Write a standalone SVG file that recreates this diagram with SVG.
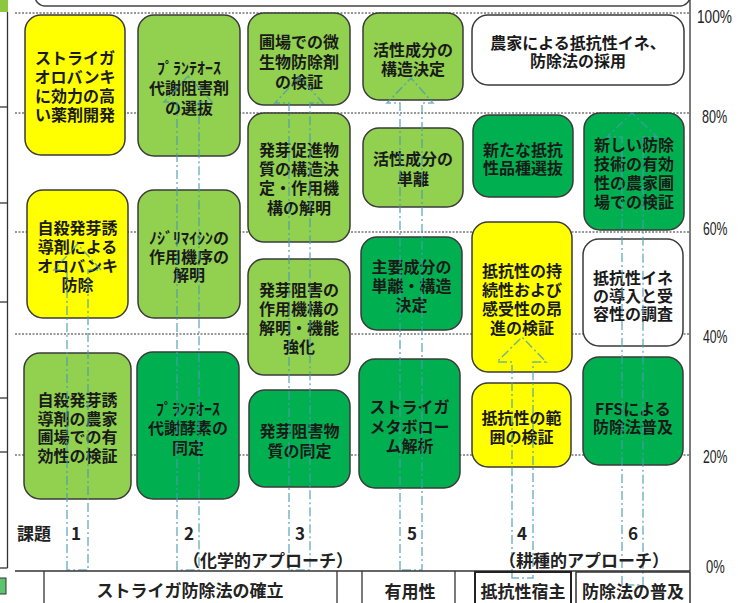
<svg xmlns="http://www.w3.org/2000/svg" width="738" height="603" viewBox="0 0 738 603">
<style>
.bg{fill:#ffffff}
.grid{stroke:#333;stroke-width:1.2;stroke-dasharray:2 1.5;fill:none}
.frame{stroke:#333;stroke-width:1.3;fill:none}
.box{stroke:#3a3a3a;stroke-width:1.5}
.y{fill:#ffff00}
.lg{fill:#92d050}
.dg{fill:#00b050}
.w{fill:#ffffff}
.t{font-family:"Noto Sans CJK JP","Noto Sans CJK SC",sans-serif;font-size:16px;font-weight:bold;fill:#1a1a1a;text-anchor:middle}
.lab{font-family:"Noto Sans CJK JP",sans-serif;font-size:17px;font-weight:bold;fill:#222;text-anchor:middle}
.pct{font-family:"Liberation Sans",sans-serif;font-size:18px;fill:#222}
.arr{fill:none;stroke:#4a9bb0;stroke-width:1.5;stroke-dasharray:9 3 2 3;opacity:0.75}
</style>
<rect class="bg" x="0" y="0" width="738" height="603"/>
<rect x="0" y="0" width="8" height="12" fill="#8dc63f"/>
<g class="frame">
<line x1="7.5" y1="12" x2="7.5" y2="568"/>
<line x1="0" y1="107" x2="7.5" y2="107"/>
<line x1="0" y1="203" x2="7.5" y2="203"/>
<line x1="0" y1="302" x2="7.5" y2="302"/>
<line x1="0" y1="398" x2="7.5" y2="398"/>
<line x1="0" y1="452" x2="7.5" y2="452"/>
<line x1="0" y1="568" x2="7.5" y2="568"/>
</g>
<rect x="-1" y="578" width="7" height="16" fill="#5cc46e" stroke="#333" stroke-width="1"/>
<rect x="35" y="-30" width="655" height="36" rx="10" fill="#fff" stroke="#444" stroke-width="1.5"/>
<g class="grid">
<line x1="15" y1="13" x2="690" y2="13"/>
<line x1="15" y1="113" x2="690" y2="113"/>
<line x1="15" y1="232" x2="690" y2="232"/>
<line x1="15" y1="334" x2="690" y2="334"/>
<line x1="15" y1="455" x2="690" y2="455"/>
</g>
<line class="frame" x1="690" y1="0" x2="690" y2="571"/>
<text class="pct" transform="translate(697,23) scale(0.76,1)">100%</text>
<text class="pct" transform="translate(702,123) scale(0.7,1)">80%</text>
<text class="pct" transform="translate(703,235) scale(0.68,1)">60%</text>
<text class="pct" transform="translate(703,343) scale(0.68,1)">40%</text>
<text class="pct" transform="translate(703,463) scale(0.68,1)">20%</text>
<text class="pct" transform="translate(706,573) scale(0.72,1)">0%</text>

<g id="n1a"><rect class="box y" x="25" y="15" width="100" height="140" rx="16"/>
<text class="t" y="64"><tspan x="75">ストライガ</tspan><tspan x="75" dy="19">オロバンキ</tspan><tspan x="75" dy="19">に効力の高</tspan><tspan x="75" dy="19">い薬剤開発</tspan></text></g>
<g id="n1b"><rect class="box y" x="27" y="190" width="101" height="128" rx="16"/>
<text class="t" y="234"><tspan x="77.5">自殺発芽誘</tspan><tspan x="77.5" dy="19">導剤による</tspan><tspan x="77.5" dy="19">オロバンキ</tspan><tspan x="77.5" dy="19">防除</tspan></text></g>
<g id="n1c"><rect class="box lg" x="24" y="353" width="107" height="146" rx="16"/>
<text class="t" y="406"><tspan x="77.5">自殺発芽誘</tspan><tspan x="77.5" dy="18.5">導剤の農家</tspan><tspan x="77.5" dy="18.5">圃場での有</tspan><tspan x="77.5" dy="18.5">効性の検証</tspan></text></g>
<g id="n2a"><rect class="box lg" x="138" y="15" width="102" height="141" rx="16"/>
<text class="t" y="74"><tspan x="189">ﾌﾟﾗﾝﾃｵｰｽ</tspan><tspan x="189" dy="20">代謝阻害剤</tspan><tspan x="189" dy="20">の選抜</tspan></text></g>
<g id="n2b"><rect class="box lg" x="138" y="190" width="102" height="128" rx="16"/>
<text class="t" y="244"><tspan x="189">ﾉｼﾞﾘﾏｲｼﾝの</tspan><tspan x="189" dy="19">作用機序の</tspan><tspan x="189" dy="18">解明</tspan></text></g>
<g id="n2c"><rect class="box dg" x="137" y="352" width="102" height="147" rx="16"/>
<text class="t" y="415"><tspan x="188">ﾌﾟﾗﾝﾃｵｰｽ</tspan><tspan x="188" dy="19">代謝酵素の</tspan><tspan x="188" dy="20">同定</tspan></text></g>
<g id="n3a"><rect class="box lg" x="248" y="13" width="102" height="92" rx="16"/>
<text class="t" y="48"><tspan x="299">圃場での微</tspan><tspan x="299" dy="20">生物防除剤</tspan><tspan x="299" dy="20">の検証</tspan></text></g>
<g id="n3b"><rect class="box lg" x="248" y="113" width="102" height="129" rx="16"/>
<text class="t" y="156"><tspan x="299">発芽促進物</tspan><tspan x="299" dy="19">質の構造決</tspan><tspan x="299" dy="19">定・作用機</tspan><tspan x="299" dy="20">構の解明</tspan></text></g>
<g id="n3c"><rect class="box lg" x="248" y="259" width="102" height="116" rx="16"/>
<text class="t" y="296"><tspan x="299">発芽阻害の</tspan><tspan x="299" dy="19">作用機構の</tspan><tspan x="299" dy="19">解明・機能</tspan><tspan x="299" dy="19">強化</tspan></text></g>
<g id="n3d"><rect class="box dg" x="249" y="390" width="101" height="97" rx="16"/>
<text class="t" y="437"><tspan x="299.5">発芽阻害物</tspan><tspan x="299.5" dy="20">質の同定</tspan></text></g>
<g id="n5a"><rect class="box lg" x="363" y="13" width="100" height="87" rx="16"/>
<text class="t" y="56"><tspan x="413">活性成分の</tspan><tspan x="413" dy="19">構造決定</tspan></text></g>
<g id="n5b"><rect class="box lg" x="363" y="128" width="100" height="79" rx="16"/>
<text class="t" y="165"><tspan x="413">活性成分の</tspan><tspan x="413" dy="20">単離</tspan></text></g>
<g id="n5c"><rect class="box dg" x="361" y="237" width="101" height="93" rx="16"/>
<text class="t" y="273"><tspan x="411.5">主要成分の</tspan><tspan x="411.5" dy="19">単離・構造</tspan><tspan x="411.5" dy="19">決定</tspan></text></g>
<g id="n5d"><rect class="box dg" x="359" y="359" width="101" height="129" rx="16"/>
<text class="t" y="413"><tspan x="409.5">ストライガ</tspan><tspan x="409.5" dy="20">メタボロー</tspan><tspan x="409.5" dy="19">ム解析</tspan></text></g>
<g id="n4top"><rect class="box w" x="472" y="15" width="212" height="70" rx="16"/>
<text class="t" y="49"><tspan x="578">農家による抵抗性イネ、</tspan><tspan x="578" dy="18">防除法の採用</tspan></text></g>
<g id="n4a"><rect class="box dg" x="473" y="115" width="100" height="82" rx="16"/>
<text class="t" y="156"><tspan x="523">新たな抵抗</tspan><tspan x="523" dy="18">性品種選抜</tspan></text></g>
<g id="n4b"><rect class="box y" x="472" y="222" width="100" height="150" rx="16"/>
<text class="t" y="277"><tspan x="522">抵抗性の持</tspan><tspan x="522" dy="19">続性および</tspan><tspan x="522" dy="19">感受性の昂</tspan><tspan x="522" dy="19">進の検証</tspan></text></g>
<g id="n4c"><rect class="box y" x="472" y="383" width="99" height="84" rx="16"/>
<text class="t" y="424"><tspan x="521.5">抵抗性の範</tspan><tspan x="521.5" dy="19">囲の検証</tspan></text></g>
<g id="n6a"><rect class="box dg" x="584" y="113" width="100" height="117" rx="16"/>
<text class="t" y="151"><tspan x="634">新しい防除</tspan><tspan x="634" dy="19">技術の有効</tspan><tspan x="634" dy="19">性の農家圃</tspan><tspan x="634" dy="19">場での検証</tspan></text></g>
<g id="n6b"><rect class="box w" x="583" y="239" width="100" height="107" rx="16"/>
<text class="t" y="284"><tspan x="633">抵抗性イネ</tspan><tspan x="633" dy="18">の導入と受</tspan><tspan x="633" dy="18">容性の調査</tspan></text></g>
<g id="n6c"><rect class="box dg" x="583" y="357" width="100" height="108" rx="16"/>
<text class="t" y="415"><tspan x="633">FFSによる</tspan><tspan x="633" dy="18">防除法普及</tspan></text></g>

<g id="connectors">
<path class="arr" d="M67,570 V270 H54 L77.5,244 L101,270 H88 V570 Z"/>
<path class="arr" d="M177,570 V102 H164 L188,76 L212,102 H199 V570 Z"/>
<path class="arr" d="M289,570 V103 H275 L299,77 L323,103 H310 V570 Z"/>
<path class="arr" d="M400,570 V103 H387 L411,78 L433,103 H422 V570 Z"/>
<path class="arr" d="M512,578 V362 H497 L522,337 L546,362 H533 V578 Z"/>
<path class="arr" d="M622,585 V137 H607 L632,113 L657,137 H643 V585 Z"/>
</g>

<text class="lab" x="34" y="540" font-size="18">課題</text>
<text class="lab" x="76" y="540">1</text>
<text class="lab" x="189" y="540">2</text>
<text class="lab" x="300" y="540">3</text>
<text class="lab" x="412" y="540">5</text>
<text class="lab" x="522" y="540">4</text>
<text class="lab" x="633" y="540">6</text>
<text class="lab" x="268" y="567" font-size="16">（化学的アプローチ）</text>
<text class="lab" x="584" y="567" font-size="16">（耕種的アプローチ）</text>

<g class="frame">
<line x1="15" y1="571" x2="690" y2="571"/>
<line x1="44" y1="571" x2="44" y2="603"/>
<line x1="337" y1="571" x2="337" y2="603"/>
<line x1="362" y1="571" x2="362" y2="603"/>
<line x1="455" y1="571" x2="455" y2="603"/>
</g>
<rect x="475" y="572" width="96" height="40" fill="none" stroke="#222" stroke-width="2"/>
<rect x="576" y="572" width="114" height="40" fill="none" stroke="#333" stroke-width="1.5"/>
<text class="lab" x="190" y="597" font-weight="normal">ストライガ防除法の確立</text>
<text class="lab" x="410" y="598" font-weight="normal">有用性</text>
<text class="lab" x="523" y="598" font-weight="normal">抵抗性宿主</text>
<text class="lab" x="633" y="598" font-weight="normal">防除法の普及</text>
</svg>
